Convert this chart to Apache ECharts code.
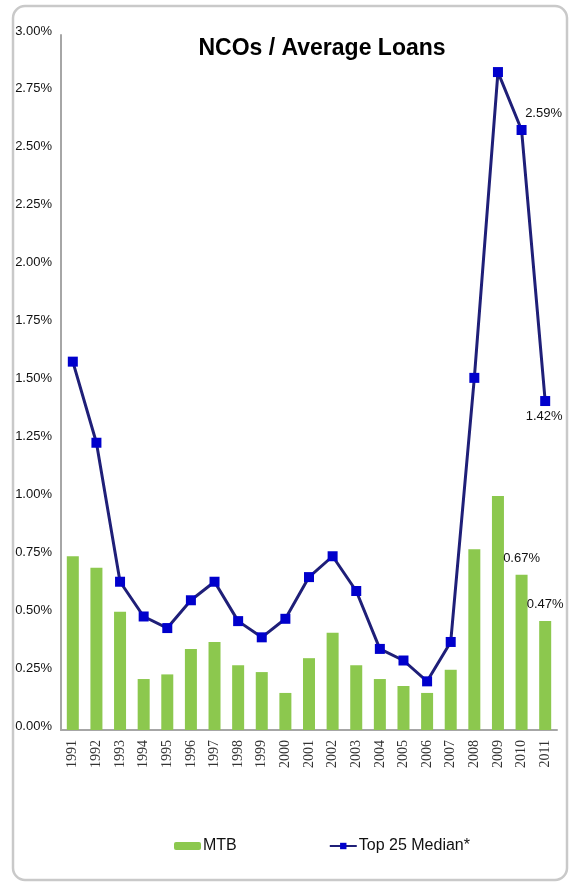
<!DOCTYPE html>
<html>
<head>
<meta charset="utf-8">
<script src="https://cdn.jsdelivr.net/npm/echarts@6/dist/echarts.min.js"></script>
<style>
  html, body { margin: 0; padding: 0; background: #ffffff; }
  #chart { width: 570px; height: 884px; }
</style>
</head>
<body>
<div id="chart"></div>
<script>
// Years on the category axis
const years = ['1991','1992','1993','1994','1995','1996','1997','1998','1999','2000',
               '2001','2002','2003','2004','2005','2006','2007','2008','2009','2010','2011'];

// Net charge-offs as a percent of average loans
const mtb = [0.75, 0.70, 0.51, 0.22, 0.24, 0.35, 0.38, 0.28, 0.25, 0.16,
             0.31, 0.42, 0.28, 0.22, 0.19, 0.16, 0.26, 0.78, 1.01, 0.67, 0.47];
const top25Median = [1.59, 1.24, 0.64, 0.49, 0.44, 0.56, 0.64, 0.47, 0.40, 0.48,
                     0.66, 0.75, 0.60, 0.35, 0.30, 0.21, 0.38, 1.52, 2.84, 2.59, 1.42];

// Value axis ticks (percent)
const yTicks = [0.00, 0.25, 0.50, 0.75, 1.00, 1.25, 1.50, 1.75, 2.00, 2.25, 2.50, 2.75, 3.00];

// Points that carry a value label
const mtbLabelled = ['2010', '2011'];
const medianLabelled = { '2010': { position: 'top', offset: [22, 0] },
                         '2011': { position: 'bottom', offset: [-1, -1] } };

const pct = v => v.toFixed(2) + '%';

const barData = mtb.map((v, i) => {
  const item = { value: v };
  if (mtbLabelled.includes(years[i])) {
    item.label = { show: true, position: 'top', distance: 10, formatter: p => pct(p.value) };
  }
  return item;
});

const lineData = top25Median.map((v, i) => {
  const item = { value: v };
  const cfg = medianLabelled[years[i]];
  if (cfg) {
    item.label = { show: true, position: cfg.position, offset: cfg.offset, distance: 5,
                   formatter: p => pct(p.value) };
  }
  return item;
});

const chart = echarts.init(document.getElementById('chart'), null, { renderer: 'canvas' });

chart.setOption({
  backgroundColor: '#ffffff',
  animation: false,
  textStyle: { fontFamily: '"Liberation Sans", Arial, sans-serif' },
  title: {
    text: 'NCOs / Average Loans',
    left: 322,
    top: 37,
    padding: 0,
    textAlign: 'center',
    textStyle: { fontSize: 23, fontWeight: 'bold', color: '#000000',
                 fontFamily: '"Liberation Sans", Arial, sans-serif' }
  },
  graphic: [{
    type: 'rect',
    silent: true,
    shape: { x: 13, y: 6, width: 554, height: 874, r: 12 },
    style: { fill: 'none', stroke: '#c9c9c9', lineWidth: 2.5 },
    z: -1
  }],
  legend: {
    bottom: 25,
    left: 169,
    itemWidth: 27,
    itemHeight: 8,
    itemGap: 92,
    textStyle: { fontSize: 16, color: '#111111', padding: [0, 0, 0, -3],
                 fontFamily: '"Liberation Sans", Arial, sans-serif' },
    data: ['MTB', 'Top 25 Median*']
  },
  grid: { left: 61, right: 13, top: 35, bottom: 154, containLabel: false },
  xAxis: {
    type: 'category',
    data: years,
    axisLine: { lineStyle: { color: '#a6a6a6', width: 2 } },
    axisTick: { show: false },
    axisLabel: {
      rotate: 90,
      margin: 10,
      interval: 0,
      fontSize: 14,
      color: '#333333',
      fontFamily: '"Liberation Serif", "Times New Roman", serif'
    }
  },
  yAxis: {
    type: 'value',
    min: yTicks[0],
    max: yTicks[yTicks.length - 1],
    interval: yTicks[1] - yTicks[0],
    axisLine: { show: true, lineStyle: { color: '#a6a6a6', width: 2 } },
    axisTick: { show: false },
    splitLine: { show: false },
    axisLabel: {
      margin: 9,
      fontSize: 13,
      color: '#111111',
      verticalAlign: 'bottom',
      lineHeight: 8,
      formatter: v => pct(v)
    }
  },
  series: [
    {
      name: 'MTB',
      type: 'bar',
      data: barData,
      barWidth: 12,
      itemStyle: { color: '#8cc84e' },
      label: { color: '#111111', fontSize: 13 }
    },
    {
      name: 'Top 25 Median*',
      type: 'line',
      data: lineData,
      symbol: 'rect',
      symbolSize: 10,
      lineStyle: { color: '#1f1f78', width: 3 },
      itemStyle: { color: '#0000cc' },
      label: { color: '#111111', fontSize: 13 },
      z: 3
    }
  ]
});
</script>
</body>
</html>
